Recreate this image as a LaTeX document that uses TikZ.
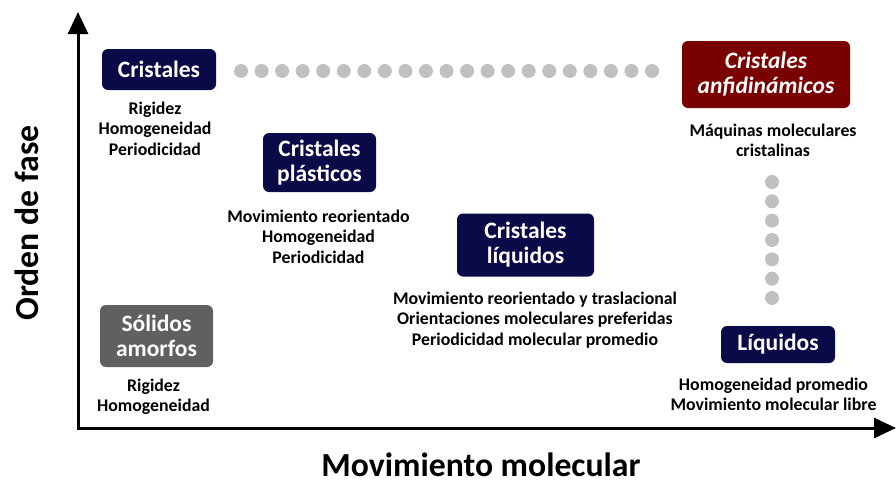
\documentclass[tikz,border=0pt]{standalone}
\usepackage{fontspec}
\setmainfont{Carlito}
\usetikzlibrary{arrows.meta}
\definecolor{navy}{RGB}{10,10,72}
\definecolor{darkred}{RGB}{122,0,0}
\definecolor{boxgray}{RGB}{96,96,96}
\definecolor{dotgray}{RGB}{192,192,192}
\tikzset{
  phase/.style={fill=navy, rounded corners=6pt, text=white, font=\fontsize{23.5}{25}\selectfont\bfseries, align=center, inner sep=0pt},
  desc/.style={font=\fontsize{17.8}{20.6}\selectfont\bfseries, align=center, inner sep=0pt, text=black},
  axislabel/.style={font=\fontsize{33.7}{36}\selectfont\bfseries, inner sep=0pt},
  dotc/.style={circle, fill=dotgray, minimum size=14pt, inner sep=0pt},
  axisline/.style={line width=3pt, -{Triangle[length=22pt,width=20pt]}}
}
\begin{document}
\begin{tikzpicture}[x=1pt,y=-1pt]
\useasboundingbox (0,0) rectangle (896,482);
% axes
\coordinate (O) at (78,428);
\coordinate (Ytop) at (78,12);
\coordinate (Xend) at (896,428);
\draw[axisline] (O) -- (Ytop);
\draw[axisline] ([xshift=-1.5pt]O) -- (Xend);
\node[axislabel, anchor=base, text depth=0pt] (xl) at (481,476) {Movimiento molecular};
\node[axislabel, rotate=90] (yl) at (27,223) {Orden de fase};
% boxes
\node[phase, minimum width=114pt, minimum height=41pt] (cr) at (159,69.5) {Cristales};
\node[phase, minimum width=113pt, minimum height=59pt] (pl) at (319.5,162.5) {Cristales\\plásticos};
\node[phase, minimum width=137pt, minimum height=63pt] (lc) at (525.5,245) {Cristales\\líquidos};
\node[phase, fill=darkred, font=\fontsize{23.5}{25}\selectfont\bfseries\itshape, minimum width=168pt, minimum height=67pt] (an) at (766,74.5) {Cristales\\anfidinámicos};
\node[phase, fill=boxgray, minimum width=113pt, minimum height=62pt] (am) at (156.5,336) {Sólidos\\amorfos};
\node[phase, minimum width=114pt, minimum height=37pt] (li) at (778,344.5) {Líquidos};
% descriptions
\node[desc, anchor=north] (crd) at (155,101.5) {Rigidez\\Homogeneidad\\Periodicidad};
\node[desc, anchor=north] (pld) at (318.5,209.5) {Movimiento reorientado\\Homogeneidad\\Periodicidad};
\node[desc, anchor=north] (lcd) at (535,291.5) {Movimiento reorientado y traslacional\\Orientaciones moleculares preferidas\\Periodicidad molecular promedio};
\node[desc, anchor=north] (and) at (773,123.5) {Máquinas moleculares\\cristalinas};
\node[desc, anchor=north] (amd) at (153.5,378.5) {Rigidez\\Homogeneidad};
\node[desc, anchor=north] (lid) at (773.5,377.5) {Homogeneidad promedio\\Movimiento molecular libre};
% dots
\foreach \i in {0,...,20} {
  \node[dotc] (h\i) at ({241+\i*20.55},71) {};
}
\foreach \i in {0,...,6} {
  \node[dotc] (v\i) at (772,{182+\i*19.33}) {};
}
\end{tikzpicture}
\end{document}
